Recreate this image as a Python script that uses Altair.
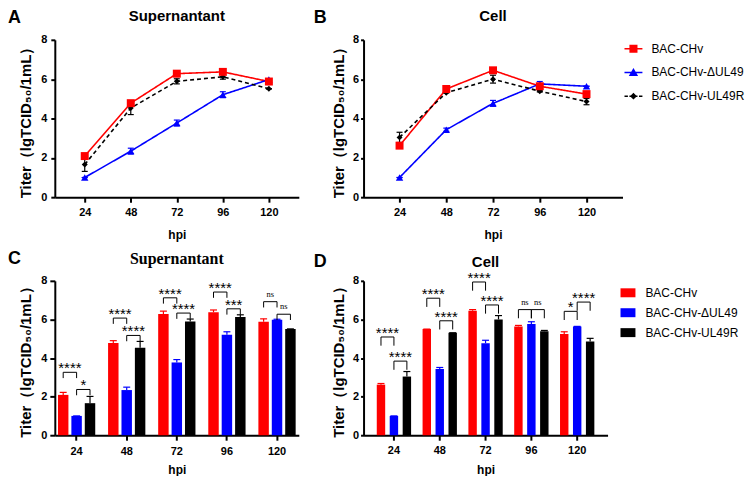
import altair as alt
import pandas as pd

HPI = ["24", "48", "72", "96", "120"]
GROUPS = ["BAC-CHv", "BAC-CHv-ΔUL49", "BAC-CHv-UL49R"]
COLORS = ["#ff0000", "#0000ff", "#000000"]

# Supernatant titers (lgTCID50/1mL) and SD
SUP_CHV = [2.09, 4.78, 6.28, 6.37, 5.88]
SUP_CHV_SD = [0.13, 0.12, 0.15, 0.12, 0.15]
SUP_DEL = [1.00, 2.34, 3.77, 5.21, 5.98]
SUP_DEL_SD = [0.0, 0.15, 0.15, 0.15, 0.03]
SUP_REV = [1.66, 4.53, 5.89, 6.12, 5.51]
SUP_REV_SD = [0.35, 0.33, 0.13, 0.12, 0.0]

# Cell-associated titers and SD
CELL_CHV = [2.62, 5.50, 6.45, 5.64, 5.24]
CELL_CHV_SD = [0.06, 0.0, 0.06, 0.05, 0.12]
CELL_DEL = [1.00, 3.43, 4.77, 5.76, 5.64]
CELL_DEL_SD = [0.0, 0.08, 0.15, 0.12, 0.0]
CELL_REV = [3.04, 5.31, 6.00, 5.39, 4.86]
CELL_REV_SD = [0.26, 0.0, 0.20, 0.04, 0.16]

# significance: comparison 1 = CHv vs dUL49, comparison 2 = dUL49 vs UL49R
SUP_SIG_1 = ["****", "****", "****", "****", "ns"]
SUP_TOP_1 = [3.26, 6.07, 7.12, 7.42, 6.92]
SUP_SIG_2 = ["*", "****", "****", "***", "ns"]
SUP_TOP_2 = [2.37, 5.17, 6.33, 6.55, 6.27]
CELL_SIG_1 = ["****", "****", "****", "ns", "*"]
CELL_TOP_1 = [5.09, 7.10, 7.94, 6.51, 6.42]
CELL_SIG_2 = ["****", "****", "****", "ns", "****"]
CELL_TOP_2 = [3.84, 5.93, 6.75, 6.51, 6.90]

YTICKS = [0, 2, 4, 6, 8]
YTITLE = "Titer（lgTCID₅₀/1mL）"
FONT = "Liberation Sans"

LEG_PATHS = [
    "M-1,-0.09H1V0.09H-1Z M-0.45,-0.45H0.45V0.45H-0.45Z",
    "M-1,-0.09H1V0.09H-1Z M0,-0.5L0.52,0.4L-0.52,0.4Z",
    "M-1,-0.09H-0.62V0.09H-1Z M-0.45,-0.09H-0.3V0.09H-0.45Z M0.3,-0.09H0.45V0.09H0.3Z M0.62,-0.09H1V0.09H0.62Z M0,-0.38L0.38,0L0,0.38L-0.38,0Z",
]
RECT_PATH = "M-1,-0.6H1V0.6H-1Z"
SHAPES = ["square", "triangle-up", "diamond"]
SIZES = [64, 55, 36]


def long_df(vals, sds):
    rows = []
    for g, vs, ss in zip(GROUPS, vals, sds):
        for h, v, s in zip(HPI, vs, ss):
            rows.append({"hpi": h, "group": g, "value": v, "sd": s})
    return pd.DataFrame(rows)


def bracket_dfs(sig1, top1, sig2, top2, leg):
    rows, labs = [], []
    for i, h in enumerate(HPI):
        for k, (sig, top) in enumerate([(sig1, top1), (sig2, top2)]):
            a, b = GROUPS[k], GROUPS[k + 1]
            t = top[i]
            bid = f"{h}-{k}"
            rows += [
                {"hpi": h, "group": a, "y": t - leg, "o": 0, "bid": bid},
                {"hpi": h, "group": a, "y": t, "o": 1, "bid": bid},
                {"hpi": h, "group": b, "y": t, "o": 2, "bid": bid},
                {"hpi": h, "group": b, "y": t - leg, "o": 3, "bid": bid},
            ]
            labs.append({"hpi": h, "group": b, "y": t, "label": sig[i]})
    return pd.DataFrame(rows), pd.DataFrame(labs)


def letter_layer(letter, lx, ly):
    return alt.Chart(pd.DataFrame({"letter": [letter]})).mark_text(
        align="left", baseline="top", font=FONT, fontSize=18, fontWeight="bold", color="black"
    ).encode(text="letter:N", x=alt.value(lx), y=alt.value(ly))


def y_axis(tick, lpad, tpad):
    return alt.Axis(values=YTICKS, title=YTITLE, tickSize=tick, labelPadding=lpad, titlePadding=tpad)


def line_panel(df, title, letter, width, height, pad, lx, ly, tdy, legend=None):
    cscale = alt.Scale(domain=GROUPS, range=COLORS)
    xenc = alt.X("hpi:O", sort=HPI, scale=alt.Scale(type="point", padding=pad),
                 axis=alt.Axis(title="hpi", labelAngle=0, tickSize=5, labelPadding=4,
                               titlePadding=12, titleFontSize=12))
    yax = y_axis(4, 4, 7) if letter == "A" else y_axis(3, 2, 6)
    ysc = alt.Scale(domain=[0, 8])
    base = alt.Chart(df).transform_calculate(lo="datum.value - datum.sd", hi="datum.value + datum.sd")
    col = alt.Color("group:N", scale=cscale, legend=None)
    layers = []
    if legend is not None:
        leg = base.transform_filter("false").mark_point(filled=True, opacity=1, size=324).encode(
            x=xenc, y=alt.Y("value:Q", scale=ysc, axis=yax),
            color=alt.Color("group:N", scale=cscale, legend=legend),
            shape=alt.Shape("group:N", scale=alt.Scale(domain=GROUPS, range=LEG_PATHS), legend=legend))
        layers.append(leg)
    lines = base.mark_line(strokeWidth=1.6).encode(
        x=xenc, y=alt.Y("value:Q", scale=ysc, axis=yax), color=col,
        strokeDash=alt.StrokeDash("group:N", scale=alt.Scale(domain=GROUPS, range=[[1, 0], [1, 0], [4, 3]]), legend=None),
        order="hpi_i:Q",
    ).transform_calculate(hpi_i="indexof(" + str(HPI) + ", datum.hpi)")
    err = base.mark_rule(strokeWidth=1.2).encode(
        x=xenc, y=alt.Y("lo:Q", scale=ysc, axis=yax), y2="hi:Q", color=col)
    cap_lo = base.mark_tick(size=6, thickness=1.2, opacity=1).encode(
        x=xenc, y=alt.Y("lo:Q", scale=ysc, axis=yax), color=col)
    cap_hi = base.mark_tick(size=6, thickness=1.2, opacity=1).encode(
        x=xenc, y=alt.Y("hi:Q", scale=ysc, axis=yax), color=col)
    layers += [lines, err, cap_lo, cap_hi]
    # draw order: blue, black, red
    for gi in [1, 2, 0]:
        pts = base.transform_filter(alt.datum.group == GROUPS[gi]).mark_point(
            shape=SHAPES[gi], filled=True, size=SIZES[gi], opacity=1).encode(
            x=xenc, y=alt.Y("value:Q", scale=ysc, axis=yax), color=col)
        layers.append(pts)
    layers.append(letter_layer(letter, lx, ly))
    return alt.layer(*layers).properties(
        width=width, height=height,
        title=alt.TitleParams(title, font=FONT, fontSize=15, fontWeight="bold", anchor="middle",
                              frame="group", color="black", offset=4, dy=tdy))


def bar_panel(df, bdf, ldf, title, tfont, tsize, letter, width, height, po, inner_pi, inner_po,
              bar_step, lx, ly, tdy, yax, xlpad, xtpad, legend=None):
    cscale = alt.Scale(domain=GROUPS, range=COLORS)
    xenc = alt.X("hpi:N", sort=HPI, scale=alt.Scale(paddingInner=0.2, paddingOuter=po),
                 axis=alt.Axis(title="hpi", labelAngle=0, tickSize=5, labelPadding=xlpad,
                               titlePadding=xtpad, titleFontSize=12))
    xoff = alt.XOffset("group:N", sort=GROUPS,
                       scale=alt.Scale(domain=GROUPS, paddingInner=inner_pi, paddingOuter=inner_po))
    ysc = alt.Scale(domain=[0, 8])
    base = alt.Chart(df).transform_calculate(hi="datum.value + datum.sd")
    bars = base.mark_bar().encode(
        x=xenc, xOffset=xoff, y=alt.Y("value:Q", scale=ysc, axis=yax),
        color=alt.Color("group:N", scale=cscale, legend=legend))
    col = alt.Color("group:N", scale=cscale, legend=None)
    err = base.mark_rule(strokeWidth=1.2).encode(
        x=xenc, xOffset=xoff, y=alt.Y("value:Q", scale=ysc, axis=yax), y2="hi:Q", color=col)
    cap = base.mark_tick(size=7, thickness=1.2, opacity=1).encode(
        x=xenc, xOffset=xoff, y=alt.Y("hi:Q", scale=ysc, axis=yax), color=col)
    br = alt.Chart(bdf).mark_line(color="black", strokeWidth=1).encode(
        x=xenc, xOffset=xoff, y=alt.Y("y:Q", scale=ysc, axis=yax), detail="bid:N", order="o:Q")
    stars = alt.Chart(ldf).transform_filter(alt.datum.label != "ns").mark_text(
        font=FONT, fontSize=15, color="black", baseline="alphabetic", dx=-bar_step / 2, dy=1).encode(
        x=xenc, xOffset=xoff, y=alt.Y("y:Q", scale=ysc, axis=yax), text="label:N")
    ns = alt.Chart(ldf).transform_filter(alt.datum.label == "ns").mark_text(
        font="Liberation Serif", fontSize=8.5, color="black", baseline="alphabetic", dx=-bar_step / 2, dy=-5).encode(
        x=xenc, xOffset=xoff, y=alt.Y("y:Q", scale=ysc, axis=yax), text="label:N")
    return alt.layer(bars, err, cap, br, stars, ns, letter_layer(letter, lx, ly)).properties(
        width=width, height=height,
        title=alt.TitleParams(title, font=tfont, fontSize=tsize, fontWeight="bold", anchor="middle",
                              frame="group", color="black", offset=4, dy=tdy))


sup = long_df([SUP_CHV, SUP_DEL, SUP_REV], [SUP_CHV_SD, SUP_DEL_SD, SUP_REV_SD])
cell = long_df([CELL_CHV, CELL_DEL, CELL_REV], [CELL_CHV_SD, CELL_DEL_SD, CELL_REV_SD])
sup_b, sup_l = bracket_dfs(SUP_SIG_1, SUP_TOP_1, SUP_SIG_2, SUP_TOP_2, 0.3)
cell_b, cell_l = bracket_dfs(CELL_SIG_1, CELL_TOP_1, CELL_SIG_2, CELL_TOP_2, 0.45)

top_legend = alt.Legend(title=None, orient="none", legendX=262, legendY=0, symbolSize=324,
                        symbolStrokeWidth=0, symbolOpacity=1, labelFont=FONT, labelFontSize=12,
                        labelOffset=9, rowPadding=8.8, padding=0, labelColor="black")
bot_legend = alt.Legend(title=None, orient="none", legendX=258, legendY=4.5, symbolType=RECT_PATH,
                        symbolSize=225, symbolStrokeWidth=0, symbolOpacity=1, labelFont=FONT,
                        labelFontSize=12, labelOffset=10, rowPadding=6, padding=0, labelColor="black")

A = line_panel(sup, "Supernantant", "A", 245, 158, 0.65, -47, -31, 19)
B = line_panel(cell, "Cell", "B", 260, 158, 0.77, -50, -31, 19, legend=top_legend)
C = bar_panel(sup, sup_b, sup_l, "Supernantant", "Liberation Serif", 16, "C", 245, 155, 0.035, 0.22, 0.105,
              13.5, -47, -31, 21, y_axis(5, 3, 7), 5, 8)
D = bar_panel(cell, cell_b, cell_l, "Cell", FONT, 15, "D", 245, 155, 0.263, 0.35, 0.09,
              13.0, -50, -28, 21, y_axis(3, 2, 6), 4, 9, legend=bot_legend)

chart = alt.concat(A, B, C, D, columns=2, spacing={"row": 84, "column": 65}, bounds="flush").resolve_scale(
    color="independent", shape="independent", strokeDash="independent", xOffset="independent"
).properties(padding=0).configure_view(stroke=None).configure_axis(
    labelFont=FONT, titleFont=FONT, labelFontWeight="bold", titleFontWeight="bold",
    labelFontSize=11, titleFontSize=15, labelColor="black", titleColor="black",
    domainColor="black", tickColor="black", domainWidth=2, tickWidth=2, grid=False,
)

chart.save("out.html", embed_options={"renderer": "svg", "actions": False})
